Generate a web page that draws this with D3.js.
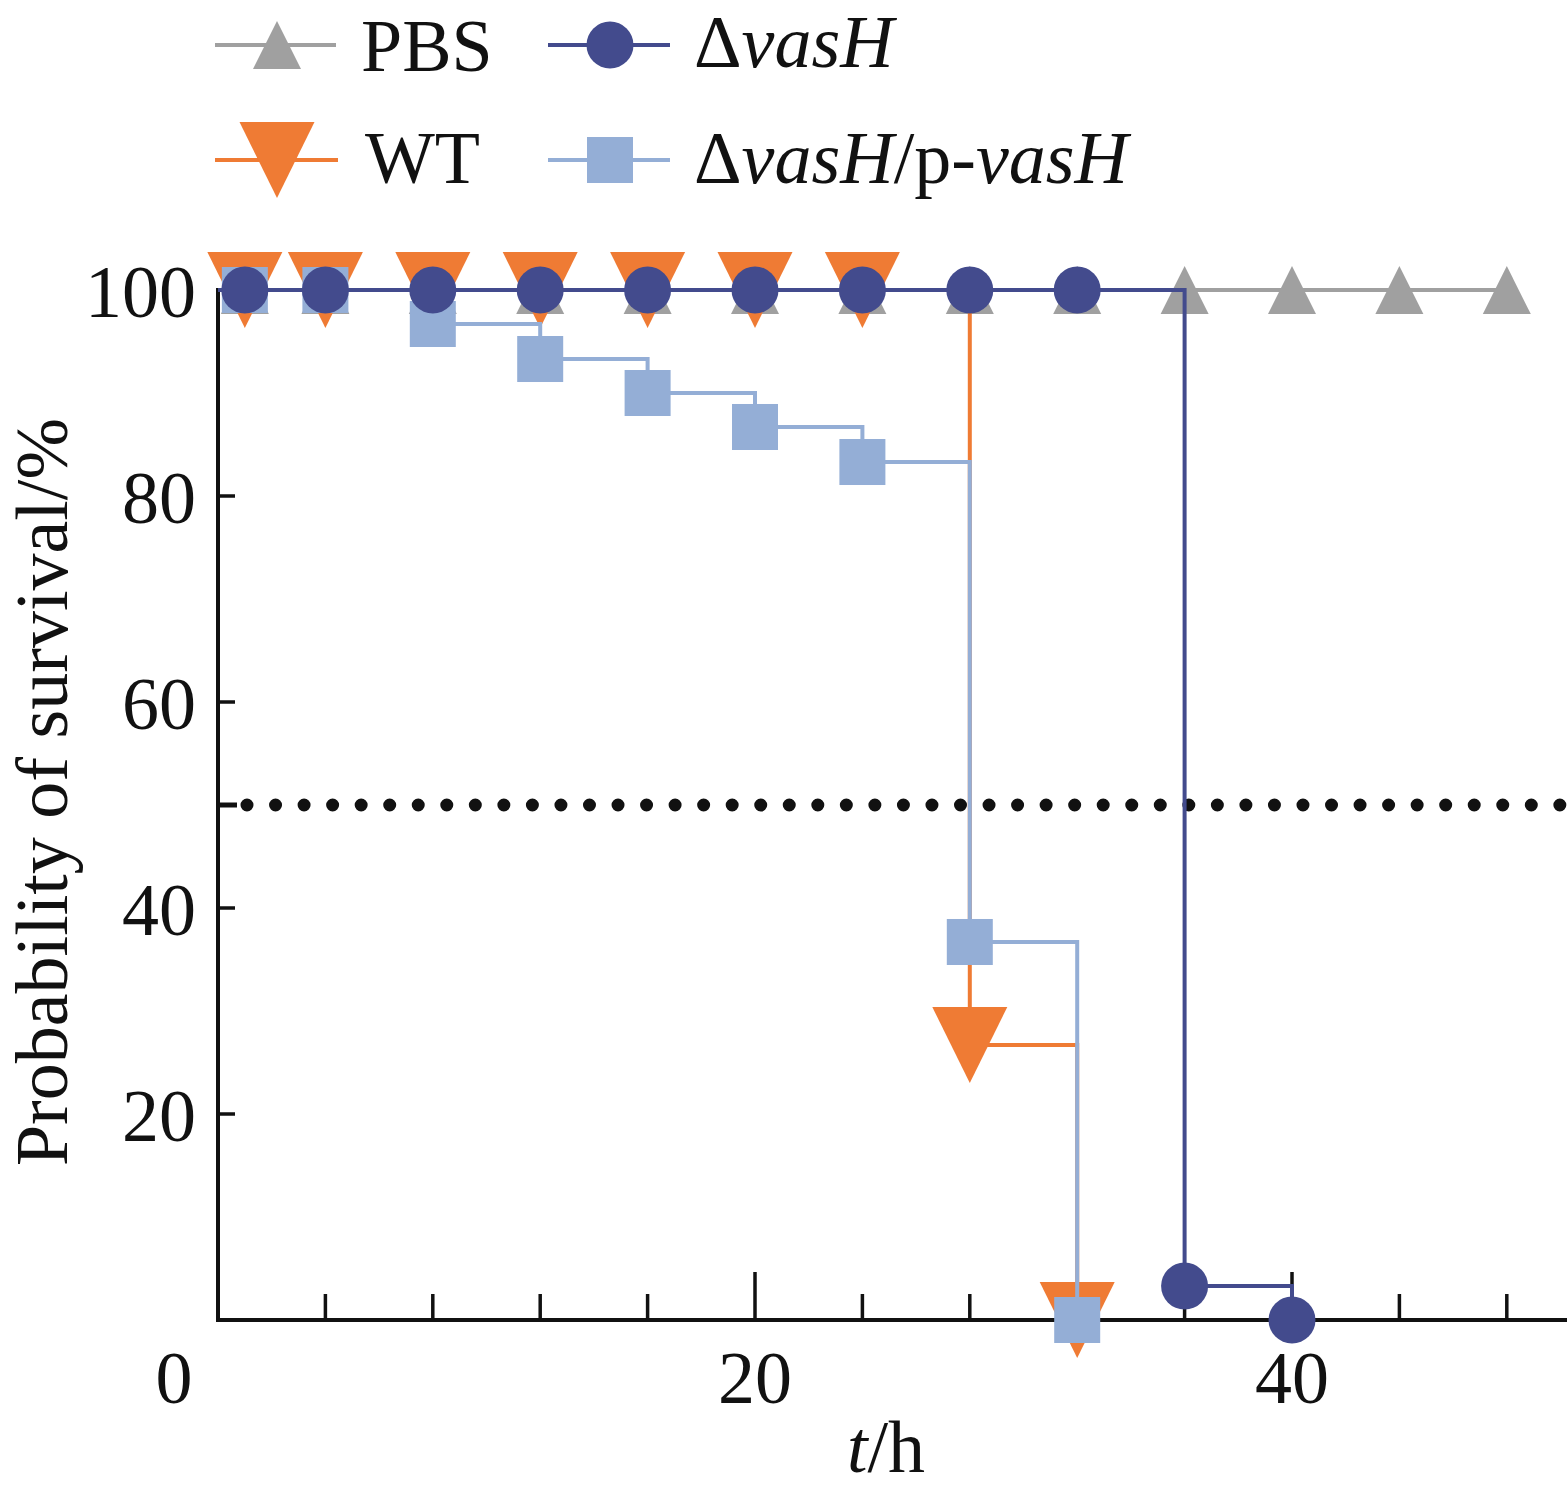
<!DOCTYPE html>
<html>
<head>
<meta charset="utf-8">
<script src="https://cdn.jsdelivr.net/npm/d3@7"></script>
<style>
  body { margin: 0; background: #fff; }
  svg { display: block; }
</style>
</head>
<body>
<svg id="chart" width="1567" height="1499"></svg>
<script>
// ---------------------------
// data
var times = [1, 4, 8, 12, 16, 20, 24, 28, 32, 36, 40, 44, 48];
var pbsValues = [100, 100, 100, 100, 100, 100, 100, 100, 100, 100, 100, 100, 100];
var wtValues = [100, 100, 100, 100, 100, 100, 100, 26.7, 0];
var vasHValues = [100, 100, 100, 100, 100, 100, 100, 100, 100, 3.3, 0];
var compValues = [100, 100, 96.7, 93.3, 90, 86.7, 83.3, 36.7, 0];
var xTicks = [4, 8, 12, 16, 20, 24, 28, 32, 36, 40, 44, 48, 52];
var xLabels = [0, 20, 40];
var yTicks = [20, 40, 60, 80, 100];
var cutoff = 50;

var series = [
    { name: "PBS", values: pbsValues, color: "#a0a0a0", shape: "up" },
    { name: "WT", values: wtValues, color: "#ef7b34", shape: "down" },
    { name: "comp", values: compValues, color: "#94aed6", shape: "square" },
    { name: "vasH", values: vasHValues, color: "#434b8d", shape: "circle" }
];

var font = "'Liberation Serif', 'Times New Roman', serif";
var svg = d3.select("#chart");

var x = d3.scaleLinear().domain([0, 52]).range([218, 218 + 52 * 26.85]);
var y = d3.scaleLinear().domain([0, 100]).range([1320, 290]);

// marker generator, shapes sized to match the figure
function marker(g, shape, color) {
    if (shape == "circle") {
        g.append("circle").attr("r", 23.5).attr("fill", color);
    } else if (shape == "square") {
        g.append("rect").attr("x", -23).attr("y", -23).attr("width", 46).attr("height", 46).attr("fill", color);
    } else if (shape == "up") {
        g.append("path").attr("d", "M-24,24L24,24L0,-24Z").attr("fill", color);
    } else {
        g.append("path").attr("d", "M-37.5,-38L37.5,-38L0,38Z").attr("fill", color);
    }
}

// ---------------------------
// dotted median line
svg.append("line")
    .attr("x1", x(0)).attr("x2", x(0) + 19)
    .attr("y1", y(cutoff)).attr("y2", y(cutoff))
    .attr("stroke", "#111").attr("stroke-width", 5);
svg.append("line")
    .attr("x1", x(0) + 29).attr("x2", x(52))
    .attr("y1", y(cutoff)).attr("y2", y(cutoff))
    .attr("stroke", "#111").attr("stroke-width", 13)
    .attr("stroke-linecap", "round")
    .attr("stroke-dasharray", "0,28.54");

// ---------------------------
// axes
var xAxis = svg.append("g").attr("id", "x-axis");
xAxis.append("line")
    .attr("x1", x(0) - 2).attr("x2", x(52))
    .attr("y1", y(0)).attr("y2", y(0))
    .attr("stroke", "#111").attr("stroke-width", 4);
xAxis.selectAll(".tick")
    .data(xTicks)
    .join("line")
    .attr("class", "tick")
    .attr("x1", d => x(d)).attr("x2", d => x(d))
    .attr("y1", y(0))
    .attr("y2", d => d % 20 == 0 ? y(0) - 48 : y(0) - 26)
    .attr("stroke", "#111").attr("stroke-width", 3.5);
xAxis.selectAll(".label")
    .data(xLabels)
    .join("text")
    .attr("class", "label")
    .attr("x", d => d == 0 ? x(d) - 44 : x(d))
    .attr("y", 1403)
    .attr("text-anchor", "middle")
    .style("font-family", font).style("font-size", "74px").attr("fill", "#111")
    .text(d => d);

var yAxis = svg.append("g").attr("id", "y-axis");
yAxis.append("line")
    .attr("x1", x(0)).attr("x2", x(0))
    .attr("y1", y(100) - 2).attr("y2", y(0) + 2)
    .attr("stroke", "#111").attr("stroke-width", 4);
yAxis.selectAll(".tick")
    .data(yTicks)
    .join("line")
    .attr("class", "tick")
    .attr("x1", x(0)).attr("x2", x(0) + 17)
    .attr("y1", d => y(d)).attr("y2", d => y(d))
    .attr("stroke", "#111").attr("stroke-width", 3.5);
yAxis.selectAll(".label")
    .data(yTicks)
    .join("text")
    .attr("class", "label")
    .attr("x", 196)
    .attr("y", d => y(d) + 27)
    .attr("text-anchor", "end")
    .style("font-family", font).style("font-size", "74px").attr("fill", "#111")
    .text(d => d);

// axis titles
svg.append("text")
    .attr("transform", "translate(67," + 792 + ") rotate(-90)")
    .attr("text-anchor", "middle")
    .style("font-family", font).style("font-size", "74px").attr("fill", "#111")
    .text("Probability of survival/%");
var xt = svg.append("text")
    .attr("x", 886).attr("y", 1472)
    .attr("text-anchor", "middle")
    .style("font-family", font).style("font-size", "74px").attr("fill", "#111");
xt.append("tspan").style("font-style", "italic").text("t");
xt.append("tspan").text("/h");

// ---------------------------
// survival curves, drawn as steps starting at t=0
var line = d3.line()
    .x(d => x(d[0]))
    .y(d => y(d[1]))
    .curve(d3.curveStepAfter);

series.forEach(function (s) {
    var pts = [[0, 100]].concat(s.values.map((v, i) => [times[i], v]));
    var g = svg.append("g").attr("class", "series-" + s.name);
    g.append("path")
        .attr("d", line(pts))
        .attr("fill", "none")
        .attr("stroke", s.color)
        .attr("stroke-width", 4);
    g.selectAll(".pt")
        .data(s.values.map((v, i) => [times[i], v]))
        .join("g")
        .attr("class", "pt")
        .attr("transform", d => "translate(" + x(d[0]) + "," + y(d[1]) + ")")
        .each(function () { marker(d3.select(this), s.shape, s.color); });
});

// ---------------------------
// legend
var legendItems = [
    { color: "#a0a0a0", shape: "up", cx: 277, cy: 45, x0: 215, x1: 336, tx: 361, ty: 71, label: [["PBS", false]] },
    { color: "#434b8d", shape: "circle", cx: 610, cy: 45, x0: 548, x1: 670, tx: 694, ty: 67, label: [["\u0394", false], ["vasH", true]] },
    { color: "#ef7b34", shape: "down", cx: 277, cy: 160, x0: 215, x1: 338, tx: 365, ty: 183, label: [["WT", false]] },
    { color: "#94aed6", shape: "square", cx: 610, cy: 160, x0: 548, x1: 670, tx: 694, ty: 183, label: [["\u0394", false], ["vasH", true], ["/p-", false], ["vasH", true]] }
];
var legend = svg.append("g").attr("id", "legend");
legendItems.forEach(function (d) {
    var g = legend.append("g");
    g.append("line")
        .attr("x1", d.x0).attr("x2", d.x1)
        .attr("y1", d.cy).attr("y2", d.cy)
        .attr("stroke", d.color).attr("stroke-width", 4);
    marker(g.append("g").attr("transform", "translate(" + d.cx + "," + d.cy + ")"), d.shape, d.color);
    var t = g.append("text")
        .attr("x", d.tx).attr("y", d.ty)
        .style("font-family", font).style("font-size", "74px").attr("fill", "#111");
    d.label.forEach(function (p) {
        t.append("tspan").style("font-style", p[1] ? "italic" : "normal").text(p[0]);
    });
});
</script>
</body>
</html>
